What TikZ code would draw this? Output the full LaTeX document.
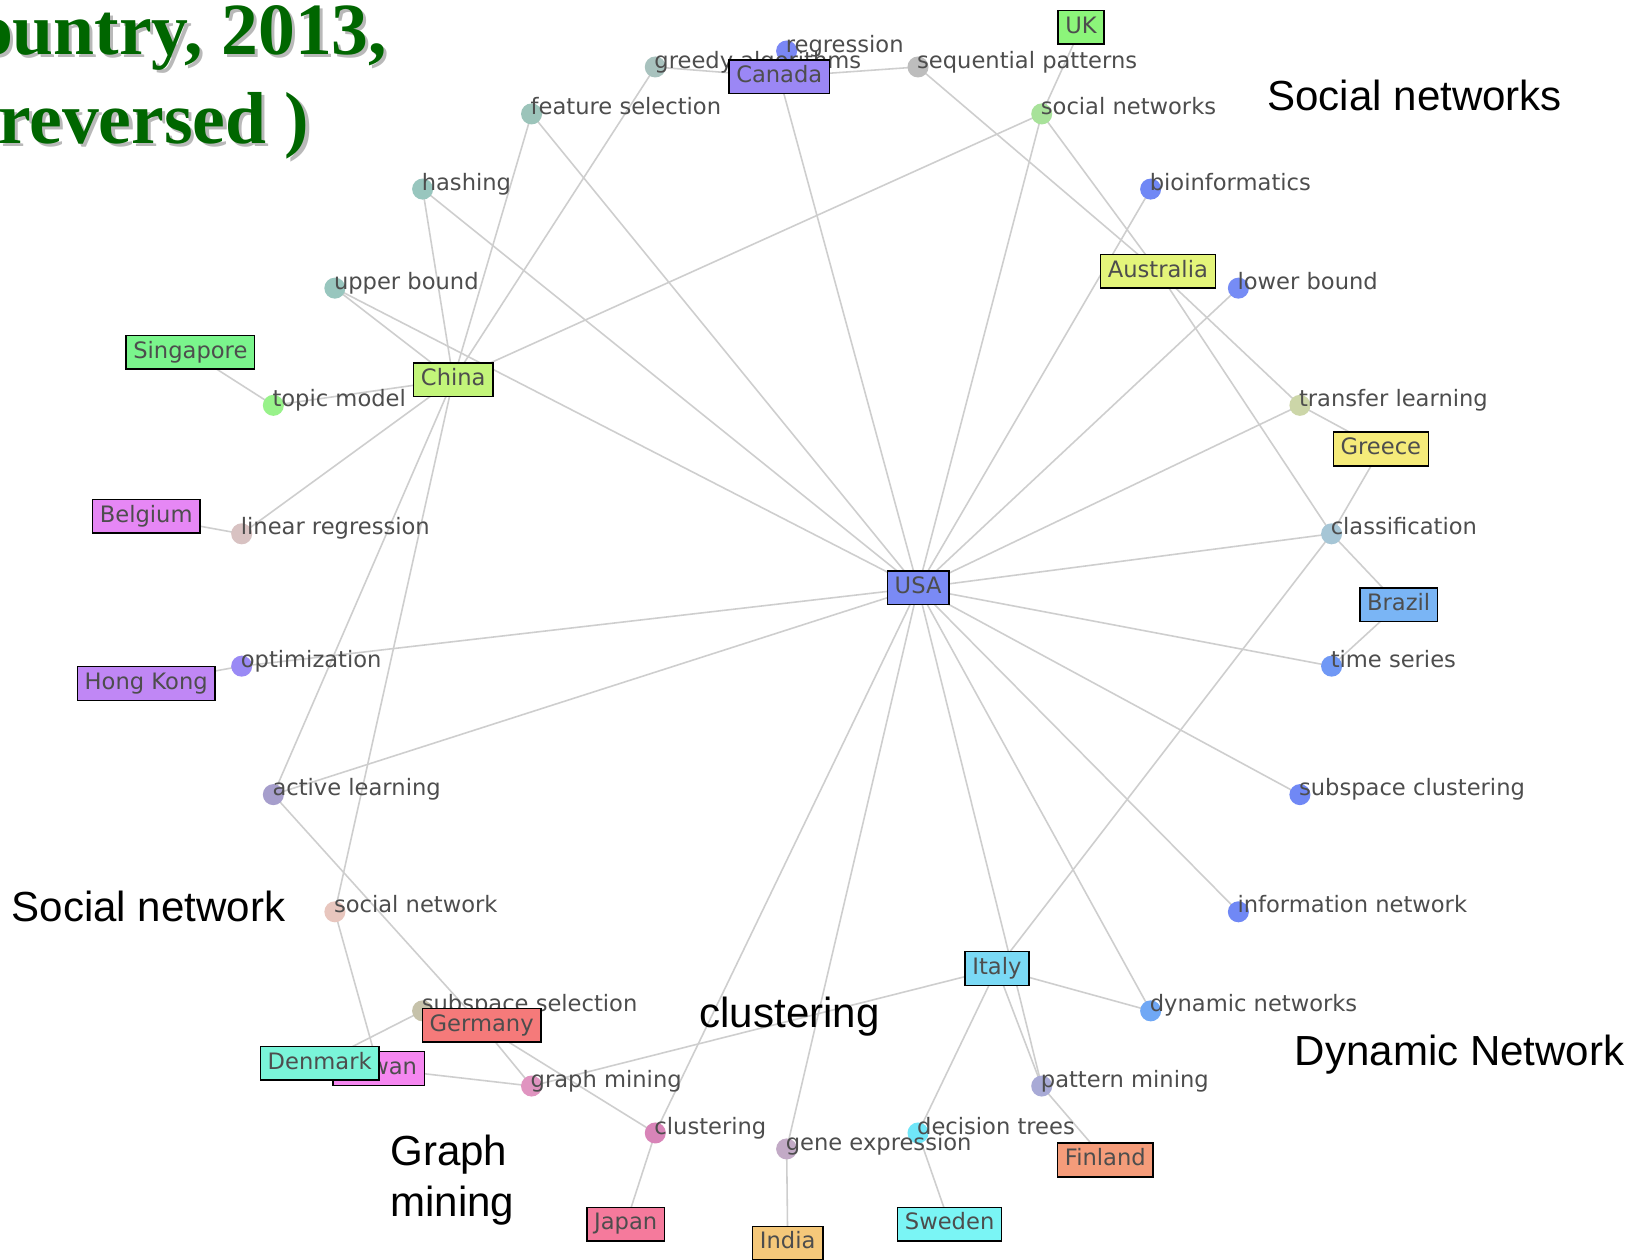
\documentclass[tikz,border=0pt]{standalone}
\usepackage{fontspec}
\setmainfont{DejaVu Sans}
\newfontfamily\headfont{Liberation Serif}
\newfontfamily\notefont{Liberation Sans}
\usetikzlibrary{backgrounds}

\definecolor{textgray}{RGB}{77,77,77}
\definecolor{linkgray}{RGB}{206,206,206}
\definecolor{titlegreen}{RGB}{0,102,0}
\definecolor{shadowgray}{RGB}{185,185,185}

% country box fills
\definecolor{cCanada}{RGB}{155,135,245}
\definecolor{cUK}{RGB}{140,245,122}
\definecolor{cUSA}{RGB}{122,138,245}
\definecolor{cChina}{RGB}{195,245,122}
\definecolor{cAustralia}{RGB}{228,245,122}
\definecolor{cSingapore}{RGB}{122,245,140}
\definecolor{cBelgium}{RGB}{230,135,245}
\definecolor{cHongKong}{RGB}{192,135,245}
\definecolor{cGreece}{RGB}{245,235,122}
\definecolor{cBrazil}{RGB}{122,181,245}
\definecolor{cItaly}{RGB}{122,217,245}
\definecolor{cGermany}{RGB}{245,122,122}
\definecolor{cTaiwan}{RGB}{245,135,240}
\definecolor{cDenmark}{RGB}{122,245,217}
\definecolor{cFinland}{RGB}{245,156,122}
\definecolor{cJapan}{RGB}{245,122,156}
\definecolor{cIndia}{RGB}{245,200,122}
\definecolor{cSweden}{RGB}{122,245,245}

\begin{document}
\begin{tikzpicture}[x=1pt,y=-1pt,
  link/.style={draw=linkgray, line width=1.5pt},
  tdot/.style={circle, inner sep=0pt, minimum size=20pt},
  term/.style={anchor=base west, inner sep=0pt, text=textgray,
    font=\fontsize{21.5}{24}\selectfont},
  country/.style={draw=black, line width=1.4pt, inner xsep=7pt, inner ysep=6pt,
    text height=15.5pt, text depth=4.5pt, text=textgray,
    font=\fontsize{21.5}{24}\selectfont},
  note/.style={anchor=base west, inner sep=0pt, text=black,
    font=\notefont\fontsize{40}{48}\selectfont},
  head/.style={anchor=base west, inner sep=0pt,
    font=\headfont\bfseries\fontsize{70}{80}\selectfont}]

\useasboundingbox (0,0) rectangle (1568,1198);
\begin{pgfonlayer}{background}
\fill[white] (0,0) rectangle (1568,1198);
\end{pgfonlayer}

% heading with drop shadow
\node[head, text=shadowgray] (h1s) at (-20,55) {ountry, 2013,};
\node[head, text=titlegreen] (h1) at (-23,52) {ountry, 2013,};
\node[head, text=shadowgray] (h2s) at (1,139) {reversed )};
\node[head, text=titlegreen] (h2) at (-2,136) {reversed )};

% topic dots on a circle
\begin{scope}[shift={(748,570.5)}]
\node[tdot, fill={rgb,255:red,122;green,135;blue,245}] (reg)   at (-90:522) {};
\node[tdot, fill={rgb,255:red,189;green,189;blue,189}] (seqp)  at (-76.154:522) {};
\node[tdot, fill={rgb,255:red,168;green,226;blue,154}] (socs)  at (-62.308:522) {};
\node[tdot, fill={rgb,255:red,112;green,136;blue,245}] (bio)   at (-48.462:522) {};
\node[tdot, fill={rgb,255:red,118;green,140;blue,245}] (lowb)  at (-34.615:522) {};
\node[tdot, fill={rgb,255:red,204;green,214;blue,168}] (trans) at (-20.769:522) {};
\node[tdot, fill={rgb,255:red,166;green,198;blue,214}] (class) at (-6.923:522) {};
\node[tdot, fill={rgb,255:red,112;green,152;blue,245}] (tser)  at (6.923:522) {};
\node[tdot, fill={rgb,255:red,112;green,136;blue,245}] (subc)  at (20.769:522) {};
\node[tdot, fill={rgb,255:red,112;green,136;blue,245}] (infn)  at (34.615:522) {};
\node[tdot, fill={rgb,255:red,112;green,168;blue,245}] (dyn)   at (48.462:522) {};
\node[tdot, fill={rgb,255:red,168;green,170;blue,214}] (patt)  at (62.308:522) {};
\node[tdot, fill={rgb,255:red,112;green,230;blue,248}] (dect)  at (76.154:522) {};
\node[tdot, fill={rgb,255:red,194;green,170;blue,198}] (gene)  at (90:522) {};
\node[tdot, fill={rgb,255:red,216;green,132;blue,184}] (clus)  at (103.846:522) {};
\node[tdot, fill={rgb,255:red,224;green,148;blue,192}] (graph) at (117.692:522) {};
\node[tdot, fill={rgb,255:red,198;green,194;blue,170}] (subs)  at (131.538:522) {};
\node[tdot, fill={rgb,255:red,232;green,198;blue,190}] (socn)  at (145.385:522) {};
\node[tdot, fill={rgb,255:red,166;green,158;blue,204}] (activ) at (159.231:522) {};
\node[tdot, fill={rgb,255:red,154;green,138;blue,245}] (optim) at (173.077:522) {};
\node[tdot, fill={rgb,255:red,216;green,194;blue,194}] (linr)  at (186.923:522) {};
\node[tdot, fill={rgb,255:red,152;green,242;blue,138}] (topic) at (200.769:522) {};
\node[tdot, fill={rgb,255:red,152;green,198;blue,190}] (upb)   at (214.615:522) {};
\node[tdot, fill={rgb,255:red,152;green,198;blue,190}] (hash)  at (228.462:522) {};
\node[tdot, fill={rgb,255:red,156;green,196;blue,186}] (feat)  at (242.308:522) {};
\node[tdot, fill={rgb,255:red,168;green,194;blue,190}] (greedy) at (256.154:522) {};
\end{scope}

% topic labels
\foreach \id/\txt in {reg/regression, seqp/sequential patterns, socs/social networks,
  bio/bioinformatics, lowb/lower bound, trans/transfer learning, class/classification,
  tser/time series, subc/subspace clustering, infn/information network,
  dyn/dynamic networks, patt/pattern mining, dect/decision trees,
  gene/gene expression, clus/clustering, graph/graph mining,
  subs/subspace selection, socn/social network, activ/active learning,
  optim/optimization, linr/linear regression, topic/topic model,
  upb/upper bound, hash/hashing, feat/feature selection, greedy/greedy algorithms}
  \node[term] (\id-l) at ([xshift=-1pt,yshift=-1pt]\id.center) {\txt};

% countries
\node[country, fill=cCanada]    (canada)    at (741,73)   {Canada};
\node[country, fill=cUK]        (uk)        at (1028,26)  {UK};
\node[country, fill=cUSA]       (usa)       at (873,559)  {USA};
\node[country, fill=cChina]     (china)     at (431,361)  {China};
\node[country, fill=cAustralia] (australia) at (1101,258) {Australia};
\node[country, fill=cSingapore] (singapore) at (181,335)  {Singapore};
\node[country, fill=cBelgium]   (belgium)   at (139,491)  {Belgium};
\node[country, fill=cHongKong]  (hongkong)  at (139,650)  {Hong Kong};
\node[country, fill=cGreece]    (greece)    at (1313,427) {Greece};
\node[country, fill=cBrazil]    (brazil)    at (1330,575) {Brazil};
\node[country, fill=cItaly]     (italy)     at (948,921)  {Italy};
\node[country, fill=cGermany]   (germany)   at (458,975)  {Germany};
\node[country, fill=cTaiwan]    (taiwan)    at (360,1016) {Taiwan};
\node[country, fill=cDenmark]   (denmark)   at (304,1011) {Denmark};
\node[country, fill=cFinland]   (finland)   at (1051,1103) {Finland};
\node[country, fill=cJapan]     (japan)     at (595,1164) {Japan};
\node[country, fill=cIndia]     (india)     at (749,1182) {India};
\node[country, fill=cSweden]    (sweden)    at (903,1164) {Sweden};

% connectors, under everything
\begin{pgfonlayer}{background}
\foreach \a/\b in {
  canada/greedy, canada/seqp, canada/usa,
  uk/socs,
  china/greedy, china/feat, china/hash, china/upb, china/topic, china/linr,
  china/socs, china/activ, china/socn,
  usa/socs, usa/bio, usa/lowb, usa/trans, usa/class, usa/tser, usa/subc,
  usa/infn, usa/dyn, usa/patt, usa/gene, usa/clus, usa/activ, usa/optim,
  usa/hash, usa/feat, usa/upb,
  australia/seqp, australia/socs, australia/trans, australia/class,
  italy/class, italy/dyn, italy/patt, italy/dect, italy/graph,
  greece/trans, greece/class, brazil/class, brazil/tser,
  singapore/topic, belgium/linr, hongkong/optim,
  germany/activ, germany/graph, germany/clus,
  taiwan/socn, taiwan/graph, denmark/subs,
  finland/patt, japan/clus, india/gene, sweden/dect}
  \draw[link] (\a.center) -- (\b.center);
\end{pgfonlayer}

% section notes
\node[note] (n1) at (1205,105) {Social networks};
\node[note] (n2) at (11,876) {Social network};
\node[note] (n3) at (665,977) {clustering};
\node[note] (n4) at (1231,1013) {Dynamic Network};
\node[note] (n5) at (371,1108) {Graph};
\node[note] (n6) at (371,1157) {mining};

\end{tikzpicture}
\end{document}
